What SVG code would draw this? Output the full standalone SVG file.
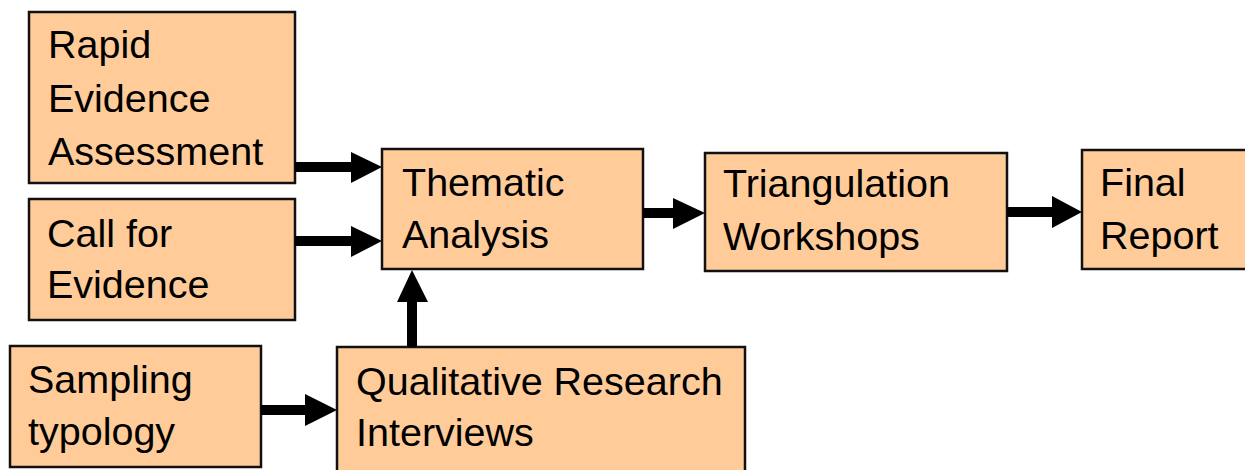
<svg xmlns="http://www.w3.org/2000/svg" width="1245" height="470" viewBox="0 0 1245 470">
<style>
.box{fill:#FFCC99;stroke:#111;stroke-width:2.5}
.t{font-family:"Liberation Sans",Arial,sans-serif;font-size:39.5px;fill:#000}
.ln{stroke:#000;stroke-width:10;fill:none}
.hd{fill:#000}
</style>
<rect width="1245" height="470" fill="#fff"/>
<g id="rea"><rect class="box" x="29" y="12" width="266" height="171"/>
<text class="t" x="48" y="58">Rapid</text><text class="t" x="48" y="112">Evidence</text><text class="t" x="48" y="165">Assessment</text></g>
<g id="cfe"><rect class="box" x="29" y="199" width="266" height="121"/>
<text class="t" x="47" y="247">Call for</text><text class="t" x="47" y="298">Evidence</text></g>
<g id="thematic"><rect class="box" x="382" y="149" width="261" height="120"/>
<text class="t" x="402" y="196">Thematic</text><text class="t" x="402" y="248">Analysis</text></g>
<g id="triang"><rect class="box" x="705" y="153" width="302" height="118"/>
<text class="t" x="723" y="197">Triangulation</text><text class="t" x="723" y="250">Workshops</text></g>
<g id="final"><rect class="box" x="1082" y="150" width="170" height="119"/>
<text class="t" x="1100" y="196">Final</text><text class="t" x="1100" y="249">Report</text></g>
<g id="sampling"><rect class="box" x="10" y="346" width="251" height="121"/>
<text class="t" x="28" y="393">Sampling</text><text class="t" x="28" y="445">typology</text></g>
<g id="qual"><rect class="box" x="337" y="347" width="408" height="130"/>
<text class="t" x="356" y="395">Qualitative Research</text><text class="t" x="356" y="446">Interviews</text></g>
<g id="connectors">
<line class="ln" x1="295" y1="167" x2="352" y2="167"/><polygon class="hd" points="351,152 382,167 351,183"/>
<line class="ln" x1="295" y1="241" x2="352" y2="241"/><polygon class="hd" points="351,226 382,241 351,257"/>
<line class="ln" x1="643" y1="213" x2="674" y2="213"/><polygon class="hd" points="673,198 705,213 673,229"/>
<line class="ln" x1="1007" y1="212" x2="1053" y2="212"/><polygon class="hd" points="1052,196 1082,212 1052,228"/>
<line class="ln" x1="412" y1="347" x2="412" y2="301"/><polygon class="hd" points="397,302 412,270 428,302"/>
<line class="ln" x1="261" y1="410" x2="306" y2="410"/><polygon class="hd" points="305,394 337,410 305,426"/>
</g>
</svg>
